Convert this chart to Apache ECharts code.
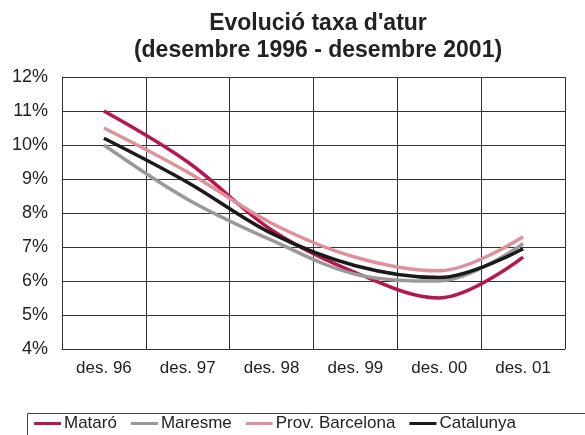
<!DOCTYPE html>
<html>
<head>
<meta charset="utf-8">
<script src="https://cdn.jsdelivr.net/npm/echarts@6/dist/echarts.min.js"></script>
<style>
  html, body { margin: 0; padding: 0; background: #fff; }
  #chart { width: 585px; height: 435px; }
</style>
</head>
<body>
<div id="chart"></div>
<script>
// dades (taxa d'atur, %)
const categories = ['des. 96', 'des. 97', 'des. 98', 'des. 99', 'des. 00', 'des. 01'];
const mataro = [11.0, 9.5, 7.5, 6.25, 5.5, 6.7];
const maresme = [10.0, 8.4, 7.2, 6.2, 6.0, 7.1];
const provBarcelona = [10.5, 9.2, 7.7, 6.7, 6.3, 7.3];
const catalunya = [10.2, 8.9, 7.4, 6.45, 6.1, 6.95];
const seriesNames = ['Mataró', 'Maresme', 'Prov. Barcelona', 'Catalunya'];
const colors = ['#b8164f', '#999999', '#e0909a', '#1a1a1a'];

const myChart = echarts.init(document.getElementById('chart'));
const font = 'Liberation Sans, Arial, sans-serif';

const mkSeries = (name, data, color) => ({
  name: name,
  type: 'line',
  data: data,
  smooth: 0.35,
  symbol: 'none',
  lineStyle: { color: color, width: 3.5 },
  itemStyle: { color: color }
});

myChart.setOption({
  animation: false,
  title: {
    text: "Evolució taxa d'atur\n(desembre 1996 - desembre 2001)",
    left: 313,
    top: 5,
    textAlign: 'center',
    textStyle: {
      fontFamily: font,
      fontSize: 23,
      fontWeight: 'bold',
      color: '#222',
      lineHeight: 27
    }
  },
  grid: {
    left: 62,
    right: 20,
    top: 77,
    bottom: 86,
    containLabel: false
  },
  xAxis: {
    type: 'category',
    data: categories,
    boundaryGap: true,
    axisLine: { show: true, lineStyle: { color: '#333', width: 1 } },
    axisTick: { show: false },
    splitLine: { show: true, lineStyle: { color: '#333', width: 1 } },
    axisLabel: {
      fontFamily: font,
      fontSize: 17,
      color: '#222',
      margin: 11
    }
  },
  yAxis: {
    type: 'value',
    min: 4,
    max: 12,
    interval: 1,
    axisLine: { show: true, lineStyle: { color: '#333', width: 1 } },
    axisTick: { show: false },
    splitLine: { show: true, lineStyle: { color: '#333', width: 1 } },
    axisLabel: {
      fontFamily: font,
      fontSize: 18,
      color: '#222',
      margin: 14,
      formatter: '{value}%'
    }
  },
  // caixa de la llegenda (retallada per la dreta, com a l'original)
  graphic: [{
    type: 'rect',
    left: 25,
    top: 411,
    shape: { width: 600, height: 40 },
    style: { fill: 'none', stroke: '#444', lineWidth: 1 }
  }],
  legend: {
    data: seriesNames,
    left: 34,
    top: 415,
    width: 700,
    orient: 'horizontal',
    icon: 'rect',
    itemWidth: 27,
    itemHeight: 3,
    itemGap: 14,
    padding: 0,
    textStyle: {
      fontFamily: font,
      fontSize: 17,
      color: '#222',
      padding: [0, 0, 0, -2]
    }
  },
  series: [
    mkSeries(seriesNames[0], mataro, colors[0]),
    mkSeries(seriesNames[1], maresme, colors[1]),
    mkSeries(seriesNames[2], provBarcelona, colors[2]),
    mkSeries(seriesNames[3], catalunya, colors[3])
  ]
});

window.onresize = function () {
  myChart.resize();
};
</script>
</body>
</html>
